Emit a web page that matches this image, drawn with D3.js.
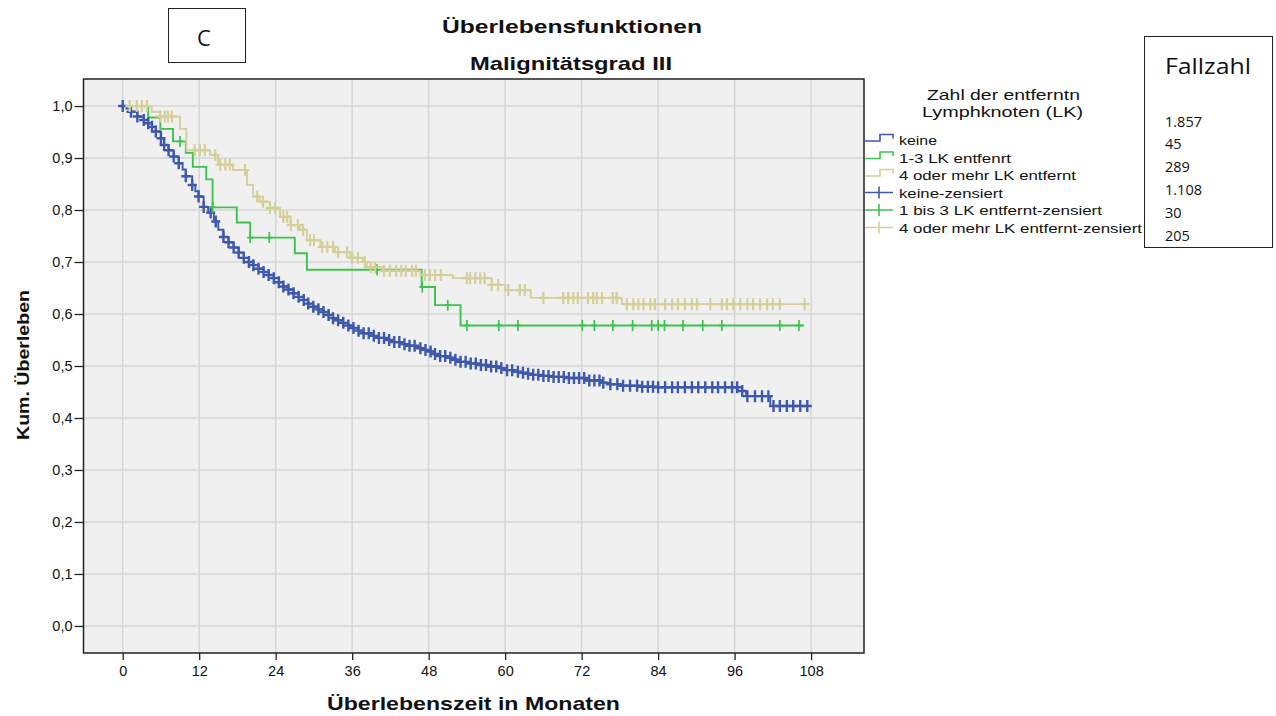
<!DOCTYPE html>
<html>
<head>
<meta charset="utf-8">
<script src="https://cdn.jsdelivr.net/npm/d3@7"></script>
<style>
  body { margin: 0; background: #fff; }
  svg { display: block; }
</style>
</head>
<body>
<svg id="chart" width="1276" height="716"></svg>
<script>
// Kaplan-Meier step points per group: [month, cumulative survival after the event]
const keineSteps = [[0,1.0],[0.6,0.995],[1.3,0.989],[2.3,0.98],[3.3,0.973],[4,0.967],[4.6,0.96],[5.2,0.951],[6,0.938],[6.5,0.925],[7.2,0.915],[8,0.903],[8.8,0.89],[9.4,0.878],[9.9,0.865],[10.9,0.848],[11.4,0.836],[11.9,0.826],[12.7,0.806],[13.4,0.795],[14.3,0.778],[15,0.762],[15.8,0.748],[16.6,0.738],[17.4,0.728],[18.2,0.718],[19,0.708],[19.8,0.7],[20.5,0.694],[21.3,0.687],[22.1,0.681],[22.9,0.675],[23.7,0.669],[24.5,0.661],[25.2,0.653],[26,0.647],[26.8,0.64],[27.6,0.633],[28.4,0.627],[29.1,0.62],[29.9,0.614],[30.7,0.609],[31.5,0.604],[32.3,0.598],[33,0.592],[33.8,0.588],[34.6,0.583],[35.4,0.578],[36.2,0.573],[37,0.568],[37.8,0.563],[39,0.558],[40.2,0.554],[41.4,0.55],[42.6,0.546],[43.8,0.542],[45,0.539],[46,0.536],[46.7,0.534],[47.5,0.531],[48.3,0.528],[49,0.523],[49.8,0.519],[50.8,0.516],[51.9,0.512],[53,0.508],[54,0.505],[55.5,0.502],[57.2,0.499],[58.8,0.496],[60.3,0.492],[61.3,0.489],[62.4,0.487],[63.4,0.485],[64.4,0.483],[66,0.481],[67.6,0.479],[70,0.477],[72.8,0.472],[75,0.468],[76.5,0.465],[78,0.462],[81.2,0.46],[84,0.459],[96.5,0.452],[97.8,0.442],[101.6,0.423]];
const keineCensored = [0,1.3,2.3,3.3,4,4.6,5.2,6,6.5,7.2,8,8.8,9.9,10.9,11.9,12.7,13.8,14.6,15.8,16.6,17.4,18.2,19,19.8,20.5,21.3,22.1,22.9,23.7,24.5,25.2,26,26.8,27.6,28.4,29.1,29.9,30.7,31.5,32.3,33,33.8,34.6,35.4,36.2,37,37.8,38.6,39.4,40.2,41,41.8,42.6,43.4,44.2,45,45.8,46.7,47.5,48.3,49,49.8,50.6,51.4,52.2,53,53.8,54.6,55.4,56.2,57,57.8,58.6,59.4,60.3,61.1,62,62.8,63.6,64.4,65.2,66,66.8,67.6,68.4,69.2,70,70.8,71.6,72.4,73.2,74,74.8,75.4,76.5,77.6,78.5,79.6,80.7,81.5,82.4,83.2,84,85.1,86.2,87.1,88.2,89.3,90.3,91.4,92.5,93.4,94.5,95.6,96.4,97.2,98,99.2,100.3,101.3,102.1,103.1,104.2,105.2,106.3,107.4];
const keineEnd = 107.8;

const lk13Steps = [[0,1.0],[4,0.978],[5.9,0.956],[7.9,0.932],[9.9,0.91],[11,0.883],[13.1,0.859],[14.1,0.805],[17.9,0.776],[20,0.747],[27,0.717],[28.9,0.685],[46.9,0.652],[49,0.617],[53,0.578]];
const lk13Censored = [9,14.1,20,23,39.9,47,51,54,59,62,72.1,74,76.9,80,83,84,85,87.9,91,94,103.1,106.1];
const lk13End = 106.9;

const lk4Steps = [[0,1.0],[4.55,0.989],[5.85,0.98],[9,0.956],[10,0.915],[13.7,0.906],[14.95,0.887],[17.3,0.877],[19.5,0.848],[20.45,0.826],[21.5,0.816],[23.1,0.804],[24.7,0.787],[26.3,0.771],[27.8,0.762],[28.9,0.742],[31,0.729],[33.3,0.719],[35.7,0.708],[37.7,0.7],[38.3,0.69],[40.8,0.683],[46.7,0.675],[51.8,0.669],[57.9,0.656],[60,0.646],[64,0.631],[78.3,0.619]];
const lk4Censored = [1.1,2.2,3,3.8,5.9,6.6,7.1,7.7,11.3,12.1,12.9,14.5,15.3,16.1,16.8,19.2,21.1,22,23.1,23.9,25.2,25.8,26.4,27.5,28.3,29.4,30,31.3,32.1,33,33.8,35.2,36,36.9,38,38.9,39.6,41,41.9,42.9,43.7,44.4,45.4,46,47.4,48.2,49,49.9,54,54.5,55.3,56.1,56.8,57.9,58.9,60.5,62.3,63.1,66,69.1,69.9,70.7,71.4,73,73.8,74.4,75.2,76.9,77.5,79.1,80.1,80.9,81.7,82.8,83.5,85.1,86.2,87.1,88.2,89.3,90.1,92.2,94,94.8,95.8,96.9,98,98.9,100,101.1,102,103.1,107];
const lk4End = 107.3;

const xTicks = [0,12,24,36,48,60,72,84,96,108];
const yTicks = [0,0.1,0.2,0.3,0.4,0.5,0.6,0.7,0.8,0.9,1.0];

const legendTitle = ["Zahl der entferntn", "Lymphknoten (LK)"];
const legendLabels = ["keine", "1-3 LK entfenrt", "4 oder mehr LK entfernt", "keine-zensiert", "1 bis 3 LK entfernt-zensiert", "4 oder mehr LK entfernt-zensiert"];
const caseCounts = ["1.857", "45", "289", "1.108", "30", "205"];

const colors = { keine: "#3e58ac", lk13: "#3ec24f", lk4: "#d5cf98" };

(function draw() {
  const svg = d3.select("#chart");
  const FONT = "'Liberation Sans', Arial, sans-serif";

  // plot frame
  const pL = 83.5, pR = 864, pT = 79, pB = 653;
  const x = d3.scaleLinear().domain([-6.15, 116.3]).range([pL, pR]);
  const y = d3.scaleLinear().domain([-0.052, 1.052]).range([pB, pT]);

  svg.append("rect").attr("x", pL).attr("y", pT)
    .attr("width", pR - pL).attr("height", pB - pT)
    .attr("fill", "#f0f0f0");

  // grid
  const grid = svg.append("g").attr("stroke", "#d6d6d6").attr("stroke-width", 1.5);
  grid.selectAll("line.v").data(xTicks).join("line").attr("class", "v")
    .attr("x1", d => x(d)).attr("x2", d => x(d)).attr("y1", pT).attr("y2", pB);
  grid.selectAll("line.h").data(yTicks).join("line").attr("class", "h")
    .attr("y1", d => y(d)).attr("y2", d => y(d)).attr("x1", pL).attr("x2", pR);

  // axes
  const yAxis = svg.append("g").attr("transform", `translate(${pL},0)`)
    .call(d3.axisLeft(y).tickValues(yTicks).tickSize(9).tickPadding(2)
      .tickFormat(d => d.toFixed(1).replace(".", ",")));
  const xAxis = svg.append("g").attr("transform", `translate(0,${pB})`)
    .call(d3.axisBottom(x).tickValues(xTicks).tickSize(7).tickPadding(6));
  [yAxis, xAxis].forEach(g => {
    g.select(".domain").remove();
    g.selectAll(".tick line").attr("stroke", "#222").attr("stroke-width", 1.3);
    g.selectAll(".tick text").attr("font-family", FONT).attr("font-size", 14.5).attr("fill", "#111");
  });

  svg.append("rect").attr("x", pL).attr("y", pT)
    .attr("width", pR - pL).attr("height", pB - pT)
    .attr("fill", "none").attr("stroke", "#222").attr("stroke-width", 1.5);

  // survival curves
  function valueAt(steps, t) {
    let v = steps[0][1];
    for (const s of steps) { if (s[0] <= t + 1e-9) v = s[1]; }
    return v;
  }
  const line = d3.line().x(d => x(d[0])).y(d => y(d[1])).curve(d3.curveStepAfter);
  const groups = [
    { key: "keine", steps: keineSteps, cens: keineCensored, end: keineEnd, hw: 4.5, hh: 6, sw: 2.4 },
    { key: "lk13", steps: lk13Steps, cens: lk13Censored, end: lk13End, hw: 3, hh: 5.5, sw: 1.7 },
    { key: "lk4", steps: lk4Steps, cens: lk4Censored, end: lk4End, hw: 4.5, hh: 6, sw: 2.2 }
  ];
  groups.forEach(g => {
    const pts = g.steps.concat([[g.end, g.steps[g.steps.length - 1][1]]]);
    svg.append("path").datum(pts).attr("d", line)
      .attr("fill", "none").attr("stroke", colors[g.key]).attr("stroke-width", 1.9);
  });
  groups.forEach(g => {
    svg.append("g").selectAll("path").data(g.cens).join("path")
      .attr("d", t => {
        const cx = x(t), cy = y(valueAt(g.steps, t));
        return `M${cx - g.hw},${cy}H${cx + g.hw}M${cx},${cy - g.hh}V${cy + g.hh}`;
      })
      .attr("fill", "none").attr("stroke", colors[g.key]).attr("stroke-width", g.sw);
  });

  // titles
  function fitText(sel, len) { return sel.attr("textLength", len).attr("lengthAdjust", "spacingAndGlyphs"); }
  fitText(svg.append("text").attr("x", 442).attr("y", 33).attr("font-family", FONT)
    .attr("font-weight", "bold").attr("font-size", 19).attr("fill", "#111").text("Überlebensfunktionen"), 260);
  fitText(svg.append("text").attr("x", 470).attr("y", 70).attr("font-family", FONT)
    .attr("font-weight", "bold").attr("font-size", 19).attr("fill", "#111").text("Malignitätsgrad III"), 202);
  fitText(svg.append("text").attr("x", 327).attr("y", 710).attr("font-family", FONT)
    .attr("font-weight", "bold").attr("font-size", 19).attr("fill", "#111").text("Überlebenszeit in Monaten"), 293);
  fitText(svg.append("text").attr("transform", "translate(29,440) rotate(-90)").attr("font-family", FONT)
    .attr("font-weight", "bold").attr("font-size", 17).attr("fill", "#111").text("Kum. Überleben"), 150);

  // panel letter
  svg.append("rect").attr("x", 168.5).attr("y", 8.5).attr("width", 77).attr("height", 54)
    .attr("fill", "#fff").attr("stroke", "#222").attr("stroke-width", 1);
  svg.append("text").attr("x", 197).attr("y", 46).attr("font-family", "'Open Sans', 'Noto Sans', sans-serif")
    .attr("font-size", 22).attr("fill", "#111").text("C");

  // legend
  const legend = svg.append("g").attr("font-family", FONT).attr("fill", "#111");
  fitText(legend.append("text").attr("x", 927).attr("y", 100).attr("font-size", 15).text(legendTitle[0]), 153);
  fitText(legend.append("text").attr("x", 922).attr("y", 117).attr("font-size", 15).text(legendTitle[1]), 161);
  const rowY = [140, 157.5, 175, 192.5, 210, 227.5];
  const rowWidths = [38, 112, 177, 104, 203, 243];
  const rowKeys = ["keine", "lk13", "lk4", "keine", "lk13", "lk4"];
  legendLabels.forEach((lab, i) => {
    const cy = rowY[i];
    const c = colors[rowKeys[i]];
    if (i < 3) {
      legend.append("path")
        .attr("d", `M865,${cy + 1}H880V${cy - 5.5}H893V${cy - 1.5}`)
        .attr("fill", "none").attr("stroke", c).attr("stroke-width", 1.6);
    } else {
      legend.append("path")
        .attr("d", `M865,${cy}H893M879,${cy - 6}V${cy + 6}`)
        .attr("fill", "none").attr("stroke", c).attr("stroke-width", 1.6);
    }
    fitText(legend.append("text").attr("x", 899).attr("y", cy + 5).attr("font-size", 13.5).text(lab), rowWidths[i]);
  });

  // case count box
  svg.append("rect").attr("x", 1144.5).attr("y", 36.5).attr("width", 128).attr("height", 211)
    .attr("fill", "#fff").attr("stroke", "#222").attr("stroke-width", 1);
  fitText(svg.append("text").attr("x", 1165).attr("y", 74).attr("font-family", "'Open Sans', 'Noto Sans', sans-serif")
    .attr("font-size", 22).attr("fill", "#111").text("Fallzahl"), 86);
  svg.append("g").selectAll("text").data(caseCounts).join("text")
    .attr("x", 1165).attr("y", (d, i) => 126.5 + i * 22.9)
    .attr("font-family", "'Open Sans', 'Noto Sans', sans-serif").attr("font-size", 14.5).attr("fill", "#111")
    .text(d => d);
})();
</script>
</body>
</html>
